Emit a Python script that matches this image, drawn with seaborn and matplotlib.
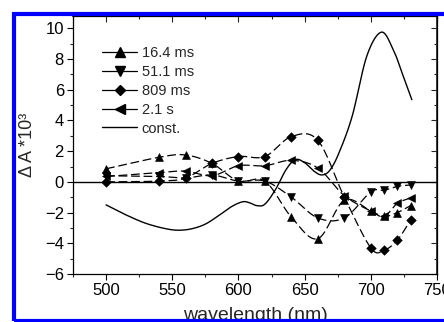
import numpy as np
import pandas as pd
import matplotlib
matplotlib.use("Agg")
import matplotlib.pyplot as plt
from matplotlib.lines import Line2D
from matplotlib.patches import Rectangle
import seaborn as sns

# ---------------- data ----------------
wl = [500, 540, 560, 580, 600, 620, 640, 660, 680, 700, 710, 720, 730]
s16_4ms = [0.85, 1.6, 1.75, 1.2, 0.05, 0.05, -2.3, -3.7, -1.2, -1.9, -2.25, -2.0, -1.55]
s51_1ms = [0.4, 0.35, 0.25, 0.45, 0.05, 0.05, -1.0, -2.35, -2.35, -0.65, -0.55, -0.3, -0.2]
s809ms = [0.0, 0.05, 0.25, 1.2, 1.65, 1.65, 2.95, 2.7, -1.0, -4.3, -4.45, -3.8, -2.5]
s2_1s = [0.35, 0.6, 0.7, 0.4, 1.05, 1.05, 1.4, 0.9, -0.9, -1.9, -2.25, -1.4, -1.05]

const_wl = [500, 515, 530, 545, 555, 565, 575, 585, 595, 603, 608, 614, 620,
            628, 636, 643, 650, 657, 663, 669, 676, 686, 697, 708, 717, 724, 731]
const_val = [-1.5, -2.15, -2.7, -3.05, -3.15, -3.05, -2.75, -2.2, -1.6, -1.3, -1.35,
             -1.55, -1.45, -0.5, 0.8, 1.45, 1.25, 0.7, 0.45, 0.75, 1.9, 4.3, 8.2,
             9.75, 8.6, 7.0, 5.35]

series_names = ["16.4 ms", "51.1 ms", "809 ms", "2.1 s"]
series_vals = [s16_4ms, s51_1ms, s809ms, s2_1s]
series_markers = ["^", "v", "D", "<"]
const_name = "const."

x_ticks = [500, 550, 600, 650, 700, 750]
y_ticks = [-6, -4, -2, 0, 2, 4, 6, 8, 10]
x_label = "wavelength (nm)"
y_label = "\u0394 A *10\u00b3"


def smooth(x, y, n=20):
    """Catmull-Rom curve through the given points (rendering only)."""
    x = np.asarray(x, float)
    y = np.asarray(y, float)
    P = np.column_stack([x, y])
    P = np.vstack([2 * P[0] - P[1], P, 2 * P[-1] - P[-2]])
    out = []
    t = np.linspace(0, 1, n, endpoint=False)[:, None]
    for i in range(1, len(P) - 2):
        p0, p1, p2, p3 = P[i - 1], P[i], P[i + 1], P[i + 2]
        seg = 0.5 * ((2 * p1) + (-p0 + p2) * t + (2 * p0 - 5 * p1 + 4 * p2 - p3) * t ** 2
                     + (-p0 + 3 * p1 - 3 * p2 + p3) * t ** 3)
        out.append(seg)
    out.append(P[-2][None, :])
    out = np.vstack(out)
    return out[:, 0], out[:, 1]


sns.set_theme(style="ticks")
plt.rcParams["font.family"] = ["Liberation Sans", "DejaVu Sans"]

fig = plt.figure(figsize=(4.44, 3.22), dpi=100)
fig.patch.set_facecolor("white")
ax = fig.add_axes([73 / 444, 1 - 274 / 322, (437 - 73) / 444, (274 - 16) / 322])

# blue frame around the figure
fig.patches.append(Rectangle((14 / 444, 1 - 321 / 322), 1.1, (321 - 14) / 322,
                             transform=fig.transFigure, fill=False,
                             edgecolor="#0000ff", linewidth=3.0, zorder=0))

dash = (0, (7, 3))
for name, vals, mk in zip(series_names, series_vals, series_markers):
    xs, ys = smooth(wl, vals)
    sns.lineplot(x=xs, y=ys, ax=ax, color="black", linewidth=0.9,
                 linestyle=dash, sort=False, estimator=None)
    sns.scatterplot(x=wl, y=vals, ax=ax, marker=mk, color="black",
                    edgecolor="black", s=32 if mk != "D" else 24, zorder=5)

cx, cy = smooth(const_wl, const_val, n=10)
sns.lineplot(x=cx, y=cy, ax=ax, color="black", linewidth=1.0, sort=False, estimator=None)

ax.axhline(0, color="black", linewidth=1.0, zorder=1)

ax.set_xlim(475, 750)
ax.set_ylim(-6, 10.8)
ax.set_xticks(x_ticks)
ax.set_xticks(np.arange(475, 751, 25), minor=True)
ax.set_yticks(y_ticks)
ax.set_yticks(np.arange(-6, 11, 1), minor=True)
ax.tick_params(axis="both", which="major", direction="out", length=4.5, width=0.8,
               labelsize=12, colors="black", pad=2)
ax.tick_params(axis="both", which="minor", direction="out", length=2.5, width=0.8)
ax.set_xlabel(x_label, fontsize=14,
              bbox=dict(facecolor="white", edgecolor="none", pad=0))
ax.xaxis.set_label_coords(0.501, -0.127)
ax.set_ylabel(y_label, fontsize=13)
ax.yaxis.set_label_coords(-0.101, 0.5)
for s in ax.spines.values():
    s.set_linewidth(0.9)
    s.set_color("black")
    s.set_visible(True)

sx = ax.secondary_xaxis("top")
sx.set_xticks(x_ticks)
sx.set_xticks(np.arange(475, 751, 25), minor=True)
sx.tick_params(which="major", direction="in", length=4, width=0.8, labeltop=False)
sx.tick_params(which="minor", direction="in", length=2.5, width=0.8)
sy = ax.secondary_yaxis("right")
sy.set_yticks(y_ticks)
sy.set_yticks(np.arange(-6, 11, 1), minor=True)
sy.tick_params(which="major", direction="in", length=4, width=0.8, labelright=False)
sy.tick_params(which="minor", direction="in", length=2.5, width=0.8)

handles = [Line2D([], [], color="black", linewidth=0.9, marker=mk, markersize=6.5 if mk != "D" else 5.5,
                  markerfacecolor="black", markeredgecolor="black")
           for mk in series_markers]
handles.append(Line2D([], [], color="black", linewidth=1.0))
labels = series_names + [const_name]
ax.legend(handles, labels, loc="upper left", bbox_to_anchor=(0.064, 0.905),
          frameon=False, fontsize=10.5, handlelength=2.4, handletextpad=0.3,
          labelspacing=0.33, borderaxespad=0)

fig.savefig("out.png", dpi=100, facecolor="white")
